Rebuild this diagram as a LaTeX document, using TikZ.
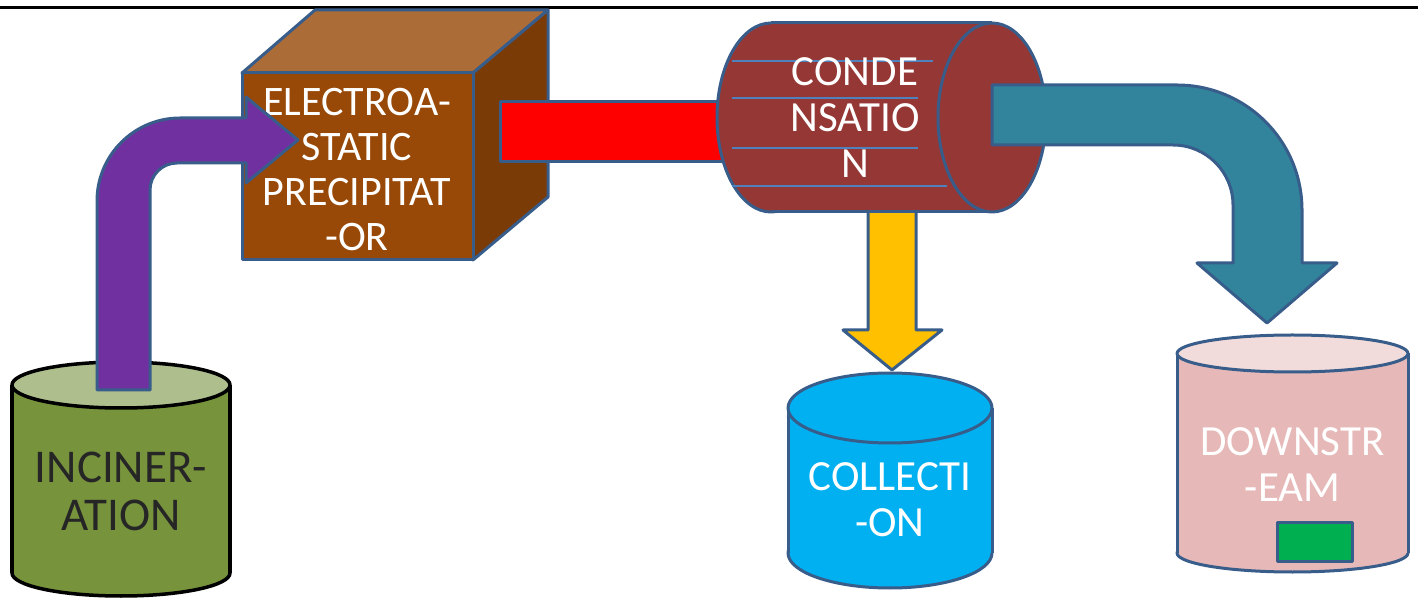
\documentclass[tikz,border=0pt]{standalone}
\usepackage{fontspec}
\setmainfont{Carlito}
\usetikzlibrary{positioning}
\definecolor{edge}{HTML}{385D8A}
\definecolor{olive}{HTML}{77933C}
\definecolor{olivetop}{HTML}{AEBE8C}
\definecolor{plum}{HTML}{7030A0}
\definecolor{rust}{HTML}{984807}
\definecolor{rusttop}{HTML}{AB6C38}
\definecolor{rustside}{HTML}{7A3B06}
\definecolor{maroon}{HTML}{953735}
\definecolor{teal}{HTML}{31849B}
\definecolor{amber}{HTML}{FFC000}
\definecolor{sky}{HTML}{00B0F0}
\definecolor{rose}{HTML}{E6B9B8}
\definecolor{rosetop}{HTML}{F2DCDB}
\definecolor{lamp}{HTML}{00B050}
\definecolor{stripe}{HTML}{4F81BD}

\begin{document}
\begin{tikzpicture}[x=1pt,y=1pt,line join=round]
\tikzstyle{rim}=[draw=edge,line width=3pt]
\tikzstyle{word}=[text=white,align=center,font=\fontsize{43}{46}\selectfont]
\useasboundingbox (0,0) rectangle (1418,597);

\draw[line width=3.5pt] (0,589.5) -- (1418,589.5);

% incineration
\filldraw[fill=olive,line width=3.5pt] (121,24) ellipse [x radius=109,y radius=23];
\fill[olive] (12,24) rectangle (230,212);
\draw[line width=3.5pt] (12,24) -- (12,212) (230,24) -- (230,212);
\filldraw[fill=olivetop,line width=3.5pt] (121,212) ellipse [x radius=109,y radius=23];
\node[word,text=black!85,font=\fontsize{47}{48}\selectfont] (I) at (121,106) {INCINER-\\ATION};

% precipitator
\filldraw[rim,fill=rusttop] (242,524) -- (315,587) -- (548,587) -- (473,524) -- cycle;
\filldraw[rim,fill=rustside] (473,524) -- (548,587) -- (548,400) -- (473,337) -- cycle;
\filldraw[rim,fill=rust] (242,337) rectangle (473,524);
\node[word,font=\fontsize{42}{45}\selectfont] (E) at (357,427.5) {ELECTROA-\\STATIC\\PRECIPITAT\\-OR};

\filldraw[rim,fill=plum] (97,207) -- (97,396) arc[start angle=180,end angle=90,radius=83]
  -- (246,479) -- (246,500) -- (298,457) -- (246,414) -- (246,434) -- (177,434)
  arc[start angle=90,end angle=180,radius=27] -- (150,207) -- cycle;

\filldraw[rim,fill=red] (500,435) rectangle (740,495);
\filldraw[rim,fill=amber] (868,397) -- (868,267) -- (843,267) -- (892,227) -- (942,267)
  -- (916,267) -- (916,397) -- cycle;

% condensation
\filldraw[rim,fill=maroon] (771,479.5) ellipse [x radius=54,y radius=94.5];
\fill[maroon] (771,385) rectangle (992,574);
\draw[rim] (771,574) -- (992,574) (771,385) -- (992,385);
\foreach \y/\x in {536/933,499/918,449/918,411/947}
  \draw[stripe,line width=1.2pt] (732,\y) -- (\x,\y);
\filldraw[rim,fill=maroon] (992,479.5) ellipse [x radius=54,y radius=94.5];
\node[word] (C) at (855,479) {CONDE\\NSATIO\\N};

\filldraw[rim,fill=teal] (992,512) -- (1177,512) arc[start angle=90,end angle=0,radius=125]
  -- (1302,334) -- (1337,334) -- (1267,274) -- (1197,334) -- (1233,334) -- (1233,392)
  arc[start angle=0,end angle=90,radius=60] -- (992,452) -- cycle;

% collection
\filldraw[rim,fill=sky] (890,44) ellipse [x radius=102,y radius=35];
\fill[sky] (788,44) rectangle (992,189);
\draw[rim] (788,44) -- (788,189) (992,44) -- (992,189);
\filldraw[rim,fill=sky] (890,189) ellipse [x radius=102,y radius=35];
\node[word] (L) at (890,97) {COLLECTI\\-ON};

% downstream
\filldraw[rim,fill=rose] (1292.5,44) ellipse [x radius=115.5,y radius=19];
\fill[rose] (1177,44) rectangle (1408,243.5);
\draw[rim] (1177,44) -- (1177,243.5) (1408,44) -- (1408,243.5);
\filldraw[rim,fill=rosetop] (1292.5,243.5) ellipse [x radius=115.5,y radius=18.5];
\node[word] (D) at (1292.5,132.5) {DOWNSTR\\-EAM};
\filldraw[rim,fill=lamp] (1277,36) rectangle (1352,75);
\end{tikzpicture}
\end{document}
